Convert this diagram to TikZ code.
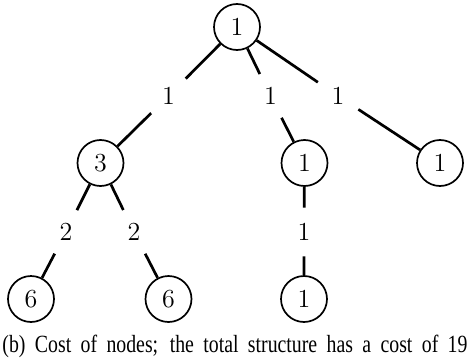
\documentclass[tikz,border=0pt]{standalone}
\usepackage{fontspec}
\newfontfamily\capfont{Liberation Serif}
\begin{document}
\begin{tikzpicture}[x=0.5pt,y=-0.5pt,
  treenode/.style={circle,draw,line width=0.85pt,minimum size=23pt,inner sep=0pt,font=\fontsize{13}{15}\selectfont},
  costlabel/.style={circle,minimum size=24pt,inner sep=0pt,font=\fontsize{13}{15}\selectfont},
  treeedge/.style={line width=1.35pt}]
\useasboundingbox (0,0) rectangle (470,358);
% nodes
\node[treenode] (r) at (237,27) {1};
\node[treenode] (a) at (100.5,163) {3};
\node[treenode] (b) at (304.5,163) {1};
\node[treenode] (c) at (440,163) {1};
\node[treenode] (a1) at (31,299) {6};
\node[treenode] (a2) at (168.5,299) {6};
\node[treenode] (b1) at (304,299) {1};
% edge labels
\node[costlabel] (lra) at (168.5,96) {1};
\node[costlabel] (lrb) at (270.5,96) {1};
\node[costlabel] (lrc) at (338,96) {1};
\node[costlabel] (laa1) at (66,232) {2};
\node[costlabel] (laa2) at (134,232) {2};
\node[costlabel] (lbb1) at (304,232) {1};
% connectors
\draw[treeedge] (r) -- (lra) (lra) -- (a);
\draw[treeedge] (r) -- (lrb) (lrb) -- (b);
\draw[treeedge] (r) -- (lrc) (lrc) -- (c);
\draw[treeedge] (a) -- (laa1) (laa1) -- (a1);
\draw[treeedge] (a) -- (laa2) (laa2) -- (a2);
\draw[treeedge] (b) -- (lbb1) (lbb1) -- (b1);
% caption
\node[anchor=base,inner sep=0pt,font=\capfont\fontsize{9.9}{12}\selectfont] (cap) at (235,352) {\scalebox{1}[1.25]{\makebox[232.5pt][s]{(b) Cost of nodes; the total structure has a cost of 19}}};
\end{tikzpicture}
\end{document}
